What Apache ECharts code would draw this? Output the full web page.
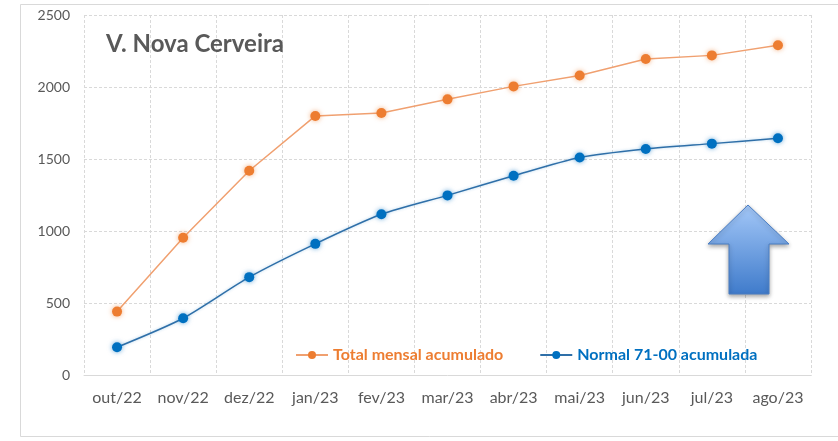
<!DOCTYPE html>
<html>
<head>
<meta charset="utf-8">
<script src="https://cdn.jsdelivr.net/npm/echarts@6/dist/echarts.min.js"></script>
<style>html,body{margin:0;padding:0;background:#fff}#c{width:838px;height:441px}</style>
</head>
<body>
<div id="c"></div>
<script>
var categories = ['out/22','nov/22','dez/22','jan/23','fev/23','mar/23','abr/23','mai/23','jun/23','jul/23','ago/23'];
var totalMensal = [443, 955, 1420, 1800, 1820, 1915, 2005, 2080, 2195, 2220, 2290];
var normal7100 = [196, 397, 682, 913, 1118, 1249, 1385, 1512, 1571, 1608, 1645];
var seriesNames = ['Total mensal acumulado', 'Normal 71-00 acumulada'];
var titleText = 'V. Nova Cerveira';

var FONT = 'Lato, "Liberation Sans", sans-serif';
var chart = echarts.init(document.getElementById('c'), null, {renderer: 'canvas'});
chart.setOption({
  animation: false,
  backgroundColor: '#ffffff',
  title: {
    text: titleText, left: 101, top: 27,
    textStyle: {color: '#595959', fontSize: 24, fontWeight: 'bold', fontFamily: FONT}
  },
  legend: {
    left: 290, top: 342, itemWidth: 32, itemHeight: 10, itemGap: 36,
    textStyle: {fontSize: 16, fontWeight: 'bold', fontFamily: FONT},
    data: [
      {name: seriesNames[0], textStyle: {color: '#ED7D31'}},
      {name: seriesNames[1], textStyle: {color: '#0070C0'}}
    ]
  },
  grid: {left: 84, right: 27, top: 15, bottom: 65.5},
  xAxis: {
    type: 'category', data: categories, boundaryGap: true,
    axisLine: {lineStyle: {color: '#d9d9d9'}},
    axisTick: {show: false},
    axisLabel: {color: '#595959', fontSize: 16, fontFamily: FONT, margin: 14, interval: 0},
    splitLine: {show: true, interval: 0, lineStyle: {color: '#d9d9d9', type: [3, 2]}}
  },
  yAxis: {
    type: 'value', min: 0, max: 2500, interval: 500,
    axisLine: {show: false}, axisTick: {show: false},
    axisLabel: {color: '#595959', fontSize: 14, fontFamily: FONT, margin: 14,
      formatter: function (v) { return String(v); }},
    splitLine: {lineStyle: {color: '#d9d9d9', type: [3, 2]}}
  },
  series: [
    {
      name: seriesNames[0], type: 'line', data: totalMensal,
      symbol: 'circle', symbolSize: 10,
      lineStyle: {color: '#F0A070', width: 1.5},
      itemStyle: {color: '#ED7D31', shadowColor: 'rgba(237,125,49,0.6)', shadowBlur: 5}
    },
    {
      name: seriesNames[1], type: 'line', data: normal7100, smooth: 0.25,
      symbol: 'circle', symbolSize: 10,
      lineStyle: {color: '#2F6FA8', width: 1.5, shadowColor: 'rgba(0,112,192,0.3)', shadowBlur: 3},
      itemStyle: {color: '#0070C0', shadowColor: 'rgba(0,112,192,0.6)', shadowBlur: 5}
    }
  ],
  graphic: [
    {
      type: 'rect', z: -10, silent: true,
      shape: {x: 20.5, y: 4.5, width: 830, height: 432},
      style: {fill: 'none', stroke: '#d9d9d9', lineWidth: 1}
    },
    {
      type: 'polygon', z: 100, silent: true,
      shape: {points: [[748,205],[789,244],[769,244],[769,294],[729,294],[729,244],[708,244]]},
      style: {
        fill: new echarts.graphic.LinearGradient(0, 0, 0, 1, [
          {offset: 0, color: '#A4C8F8'},
          {offset: 1, color: '#3F7BCB'}
        ]),
        stroke: '#4A7EC4', lineWidth: 1,
        shadowColor: 'rgba(0,0,0,0.35)', shadowBlur: 4, shadowOffsetY: 2
      }
    }
  ]
});
</script>
</body>
</html>
